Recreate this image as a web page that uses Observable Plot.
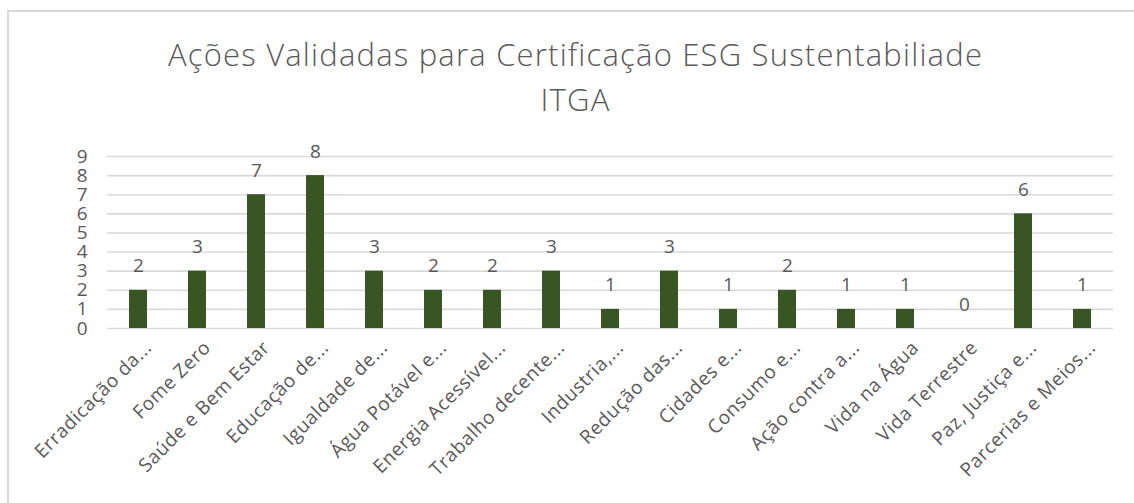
<!DOCTYPE html>
<html>
<head>
<meta charset="utf-8">
<script src="https://cdn.jsdelivr.net/npm/d3@7"></script>
<script src="https://cdn.jsdelivr.net/npm/@observablehq/plot@0.6"></script>
<style>
  html, body { margin: 0; padding: 0; background: #fff; }
  #wrap { position: relative; width: 1134px; height: 503px; overflow: hidden; }
  #frame { position: absolute; left: 7px; top: 10px; width: 1140px; height: 500px; border-left: 2px solid #d9d9d9; border-top: 2px solid #d9d9d9; box-sizing: border-box; pointer-events: none; }
  svg { font-family: "Open Sans", "Noto Sans", sans-serif; }
  .ttl text { letter-spacing: 1.2px; }
  .xax text { letter-spacing: 0.6px; }
</style>
</head>
<body>
<div id="wrap"><div id="frame"></div></div>
<script>
const categories = [
  "Erradicação da...", "Fome Zero", "Saúde e Bem Estar", "Educação de...",
  "Igualdade de...", "Água Potável e...", "Energia Acessível...", "Trabalho decente...",
  "Industria,...", "Redução das...", "Cidades e...", "Consumo e...",
  "Ação contra a...", "Vida na Água", "Vida Terrestre", "Paz, Justiça e...",
  "Parcerias e Meios..."
];
const values = [2, 3, 7, 8, 3, 2, 2, 3, 1, 3, 1, 2, 1, 1, 0, 6, 1];
const yTicks = [0, 1, 2, 3, 4, 5, 6, 7, 8, 9];
const titleLines = ["Ações Validadas para Certificação ESG Sustentabiliade", "ITGA"];

const data = categories.map((c, i) => ({ cat: c, v: values[i] }));

const chart = Plot.plot({
  width: 1134,
  height: 503,
  marginLeft: 107,
  marginRight: 21,
  marginTop: 156,
  marginBottom: 175,
  style: { background: "transparent", color: "#595959", fontFamily: "'Open Sans', 'Noto Sans', sans-serif" },
  x: { domain: categories, paddingInner: 0.7, paddingOuter: 0.35, label: null },
  y: { domain: [0, 9], label: null },
  marks: [
    Plot.ruleY(yTicks, { stroke: "#d9d9d9", strokeWidth: 1.6 }),
    Plot.barY(data, { x: "cat", y: "v", fill: "#375623" }),
    Plot.text(data, { x: "cat", y: "v", text: d => String(d.v), dy: -24, fontSize: 19, fill: "#595959" }),
    Plot.axisY(yTicks, { tickSize: 0, tickPadding: 20, fontSize: 19, fill: "#595959", label: null }),
    Plot.axisX({ tickSize: 0, tickPadding: 16, dx: 10, tickRotate: -45, fontSize: 19, fill: "#595959", label: null, className: "xax" }),
    Plot.text([titleLines[0]], { frameAnchor: "top", lineAnchor: "middle", dx: -35, dy: -100, fontSize: 31, fontWeight: 300, fill: "#595959", className: "ttl" }),
    Plot.text([titleLines[1]], { frameAnchor: "top", lineAnchor: "middle", dx: -35, dy: -55, fontSize: 31, fontWeight: 300, fill: "#595959", className: "ttl" })
  ]
});
document.getElementById("wrap").prepend(chart);
</script>
</body>
</html>
